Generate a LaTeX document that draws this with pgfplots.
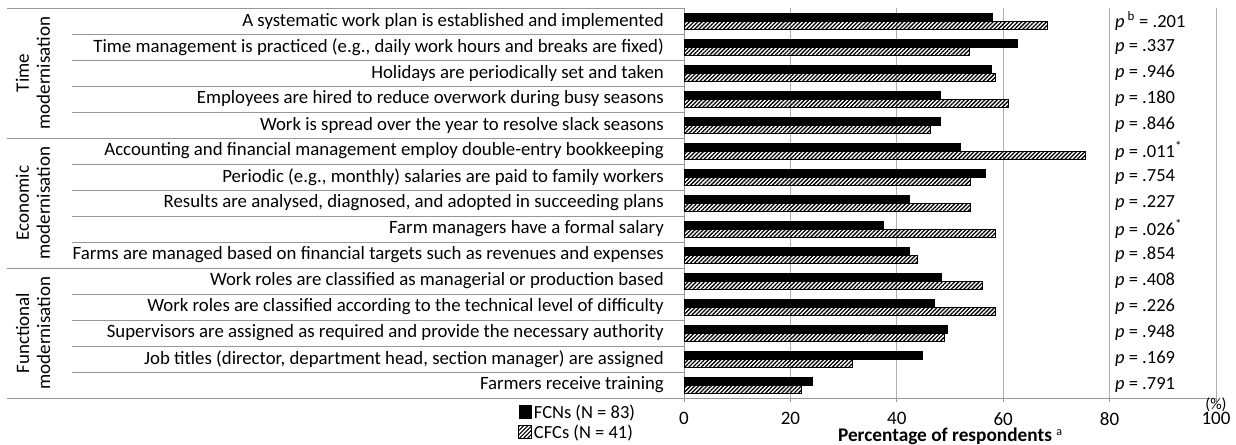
\documentclass[border=0pt]{standalone}
\usepackage{fontspec}
\setmainfont{Carlito}
\usepackage{pgfplots}
\pgfplotsset{compat=1.18}
\usetikzlibrary{patterns.meta}
\definecolor{gridgray}{RGB}{175,175,175}
\definecolor{linegray}{RGB}{150,150,150}
\begin{document}
\begin{tikzpicture}
\useasboundingbox (0,0) rectangle (1236bp,445bp);
\begin{axis}[
  at={(684bp,47bp)}, anchor=south west,
  scale only axis, width=532bp, height=390bp,
  xbar, bar width=8bp,
  xmin=0, xmax=100, ymin=0.5, ymax=15.5, y dir=reverse,
  xtick={0,20,...,100}, ytick={1,...,15},
  yticklabels={
    {A systematic work plan is established and implemented},
    {Time management is practiced (e.g., daily work hours and breaks are fixed)},
    {Holidays are periodically set and taken},
    {Employees are hired to reduce overwork during busy seasons},
    {Work is spread over the year to resolve slack seasons},
    {Accounting and financial management employ double-entry bookkeeping},
    {Periodic (e.g., monthly) salaries are paid to family workers},
    {Results are analysed, diagnosed, and adopted in succeeding plans},
    {Farm managers have a formal salary},
    {Farms are managed based on financial targets such as revenues and expenses},
    {Work roles are classified as managerial or production based},
    {Work roles are classified according to the technical level of difficulty},
    {Supervisors are assigned as required and provide the necessary authority},
    {Job titles (director, department head, section manager) are assigned},
    {Farmers receive training}},
  axis x line*=bottom, axis y line*=left,
  x axis line style={draw=linegray, line width=0.8bp},
  y axis line style={draw=linegray, line width=0.8bp},
  xtick align=outside, major tick length=4bp,
  xtick style={draw=linegray, line width=0.8bp}, ytick style={draw=none},
  xmajorgrids, grid style={draw=gridgray, line width=0.8bp},
  yticklabel style={anchor=east, inner sep=0pt, xshift=-16bp, font=\fontsize{18.8bp}{22bp}\selectfont},
  xticklabel style={inner sep=0pt, yshift=-10bp, font=\fontsize{19bp}{22bp}\selectfont},
  /pgf/number format/assume math mode=true,
  clip=false,
  legend style={at={(-0.088,-0.011)}, anchor=north east, draw=none, fill=none,
    font=\fontsize{18.5bp}{20bp}\selectfont, inner sep=0pt, row sep=1bp,
    /tikz/every even column/.append style={column sep=2bp}},
  legend cell align=left,
]
\addplot[fill=black, draw=black, line width=0.5bp, bar shift=4bp,
  legend image code/.code={\draw[fill=black,draw=black] (0bp,-6bp) rectangle (12.5bp,6.5bp);}]
  coordinates {
  (58.0,1) (62.7,2) (57.8,3) (48.2,4) (48.2,5)
  (51.9,6) (56.7,7) (42.4,8) (37.4,9) (42.4,10)
  (48.3,11) (47.1,12) (49.5,13) (44.7,14) (24.1,15)};
\addlegendentry{FCNs (N = 83)}
\addplot[pattern={Lines[angle=45,distance=2.9bp,line width=1.3bp]}, draw=black, line width=0.8bp, bar shift=-4bp,
  legend image code/.code={\draw[pattern={Lines[angle=45,distance=2.9bp,line width=1.1bp]},draw=black] (0bp,-6bp) rectangle (12.5bp,6.5bp);}]
  coordinates {
  (68.3,1) (53.7,2) (58.5,3) (61.0,4) (46.3,5)
  (75.5,6) (53.8,7) (53.8,8) (58.6,9) (43.9,10)
  (56.1,11) (58.6,12) (48.9,13) (31.7,14) (22.0,15)};
\addlegendentry{CFCs (N = 41)}
% separator lines in label area
\pgfplotsinvokeforeach{1.5,2.5,3.5,4.5,6.5,7.5,8.5,9.5,11.5,12.5,13.5,14.5}{
  \draw[linegray, line width=0.8bp] ([xshift=-612bp]axis cs:0,#1) -- (axis cs:0,#1);
}
\pgfplotsinvokeforeach{0.5,5.5,10.5,15.5}{
  \draw[linegray, line width=0.8bp] ([xshift=-677bp]axis cs:0,#1) -- (axis cs:0,#1);
}
% group labels
\begin{scope}[every node/.style={rotate=90, align=center, font=\fontsize{19bp}{21bp}\selectfont, inner sep=0pt}]
\node at ([xshift=-651bp]axis cs:0,3) {Time\\modernisation};
\node at ([xshift=-651bp]axis cs:0,8) {Economic\\modernisation};
\node at ([xshift=-651bp]axis cs:0,13) {Functional\\modernisation};
\end{scope}
% p-values
\begin{scope}[every node/.style={anchor=west, inner sep=0pt, font=\fontsize{18.5bp}{20bp}\selectfont}]
\node at (axis cs:81,1) {\textit{p}\,\textsuperscript{b} = .201};
\node at (axis cs:81,2) {\textit{p} = .337};
\node at (axis cs:81,3) {\textit{p} = .946};
\node at (axis cs:81,4) {\textit{p} = .180};
\node at (axis cs:81,5) {\textit{p} = .846};
\node at (axis cs:81,6) {\textit{p} = .011\textsuperscript{*}};
\node at (axis cs:81,7) {\textit{p} = .754};
\node at (axis cs:81,8) {\textit{p} = .227};
\node at (axis cs:81,9) {\textit{p} = .026\textsuperscript{*}};
\node at (axis cs:81,10) {\textit{p} = .854};
\node at (axis cs:81,11) {\textit{p} = .408};
\node at (axis cs:81,12) {\textit{p} = .226};
\node at (axis cs:81,13) {\textit{p} = .948};
\node at (axis cs:81,14) {\textit{p} = .169};
\node at (axis cs:81,15) {\textit{p} = .791};
\end{scope}
\node[font=\fontsize{16bp}{18bp}\selectfont, inner sep=0pt] at ([yshift=-7bp]axis cs:100,15.5) {(\%)};
\node[font=\fontsize{19.3bp}{22bp}\selectfont\bfseries, inner sep=0pt] (xl) at ([xshift=-5bp,yshift=-38.5bp]rel axis cs:0.5,0) {Percentage of respondents};
\node[font=\fontsize{12bp}{14bp}\selectfont, inner sep=0pt, anchor=south west] at ([xshift=4bp,yshift=1bp]xl.east) {a};
\end{axis}
\end{tikzpicture}
\end{document}
